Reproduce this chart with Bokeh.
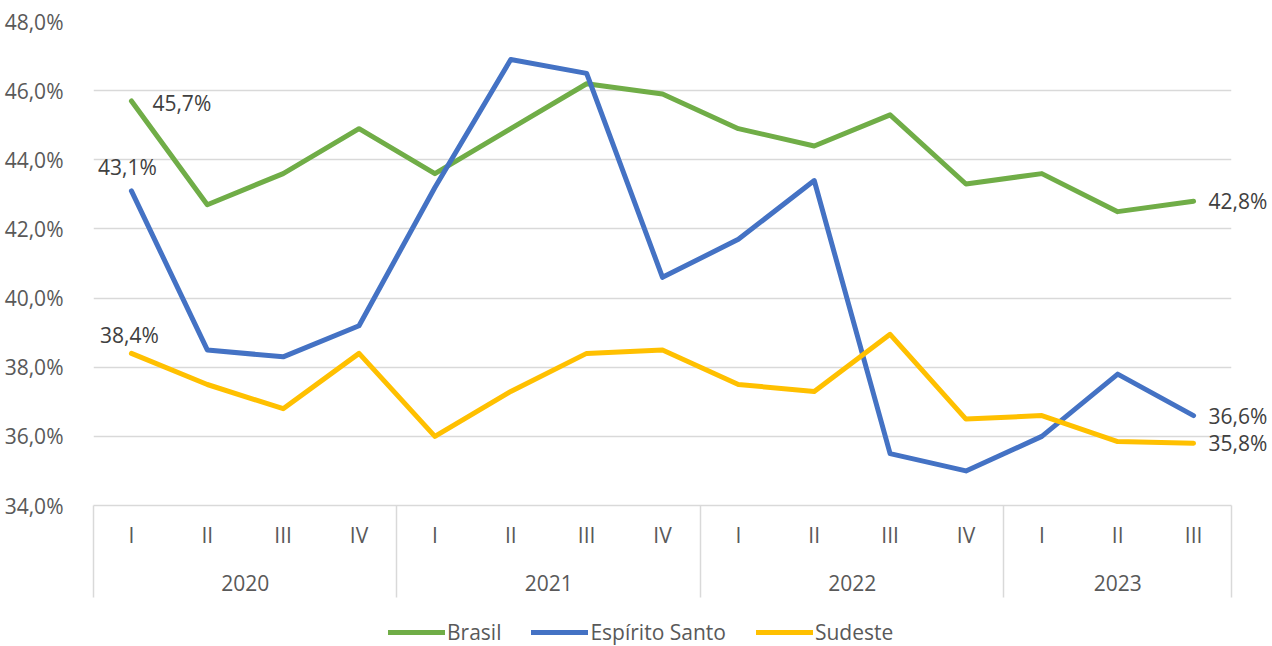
from bokeh.plotting import figure
from bokeh.layouts import column
from bokeh.models import (Range1d, FixedTicker, LinearAxis, CustomJSTickFormatter,
                          Legend, LegendItem, LabelSet, ColumnDataSource)
from bokeh.core.properties import value
from bokeh.embed import file_html
from bokeh.resources import INLINE

# ---------------- data ----------------
years = ["2020", "2021", "2022", "2023"]
quarters_per_year = [4, 4, 4, 3]
quarters = ["I", "II", "III", "IV",
            "I", "II", "III", "IV",
            "I", "II", "III", "IV",
            "I", "II", "III"]

brasil = [45.7, 42.7, 43.6, 44.9, 43.6, 44.9, 46.2, 45.9, 44.9, 44.4, 45.3, 43.3, 43.6, 42.5, 42.8]
espirito_santo = [43.1, 38.5, 38.3, 39.2, 43.2, 46.9, 46.5, 40.6, 41.7, 43.4, 35.5, 35.0, 36.0, 37.8, 36.6]
sudeste = [38.4, 37.5, 36.8, 38.4, 36.0, 37.3, 38.4, 38.5, 37.5, 37.3, 38.95, 36.5, 36.6, 35.85, 35.8]

y_ticks = [34, 36, 38, 40, 42, 44, 46, 48]

series_names = ["Brasil", "Espírito Santo", "Sudeste"]
series_colors = ["#70AD47", "#4472C4", "#FFC000"]

# ---------------- derived positions ----------------
n_q = len(quarters)
x_idx = list(range(n_q))
year_centers = []
separators = [-0.5]
start = 0
for n in quarters_per_year:
    year_centers.append(start + (n - 1) / 2)
    start += n
    separators.append(start - 0.5)
last = n_q - 1
end_values = [brasil[last], espirito_santo[last], sudeste[last]]

FONT = "Open Sans"
FS = "21px"
GREY = "#595959"
LABEL = "#404040"
GRID = "#d9d9d9"
PCT_JS = "return tick.toFixed(1).replace('.', ',') + '%';"
W = 1270


def fmt(v):
    return f"{v:.1f}".replace(".", ",") + "%"


p = figure(width=W, height=601, output_backend="svg", toolbar_location=None,
           x_range=Range1d(-0.5, n_q - 0.5), y_range=Range1d(34, 48),
           x_axis_location=None, y_axis_location="left",
           min_border_left=93, min_border_right=39, min_border_top=21, min_border_bottom=96)
p.outline_line_color = None
p.background_fill_color = "white"
p.border_fill_color = "white"

# y axis
p.yaxis.ticker = FixedTicker(ticks=y_ticks)
p.yaxis.formatter = CustomJSTickFormatter(code=PCT_JS)
p.yaxis.axis_line_color = None
p.yaxis.major_tick_line_color = None
p.yaxis.minor_tick_line_color = None
p.yaxis.major_label_standoff = 24
p.yaxis.major_label_text_font = FONT
p.yaxis.major_label_text_font_size = FS
p.yaxis.major_label_text_color = GREY

p.ygrid.ticker = FixedTicker(ticks=y_ticks)
p.ygrid.grid_line_color = GRID
p.ygrid.grid_line_width = 1.5
p.xgrid.visible = False

# right axis carrying the end-of-series value labels
raxis = LinearAxis(
    ticker=FixedTicker(ticks=end_values, minor_ticks=[]),
    formatter=CustomJSTickFormatter(code=PCT_JS),
    axis_line_color=None, major_tick_line_color=None, minor_tick_line_color=None,
    major_tick_out=0, major_tick_in=0, minor_tick_out=0, minor_tick_in=0,
    major_label_standoff=-23,
    major_label_text_font=FONT, major_label_text_font_size=FS,
    major_label_text_color=LABEL)
p.add_layout(raxis, "right")

# quarter axis
qaxis = LinearAxis(
    ticker=FixedTicker(ticks=x_idx, minor_ticks=[]),
    formatter=CustomJSTickFormatter(args=dict(labels=quarters),
                                    code="return labels[Math.round(tick)];"),
    axis_line_color=GRID, axis_line_width=1.5,
    major_tick_line_color=None, major_tick_out=0, major_tick_in=0,
    minor_tick_line_color=None, minor_tick_out=0, minor_tick_in=0,
    major_label_standoff=15,
    major_label_text_font=FONT, major_label_text_font_size=FS,
    major_label_text_color=GREY)
p.add_layout(qaxis, "below")

# year axis
yraxis = LinearAxis(
    ticker=FixedTicker(ticks=year_centers, minor_ticks=[]),
    formatter=CustomJSTickFormatter(args=dict(labels=years, pos=year_centers),
                                    code="const i = pos.findIndex(v => Math.abs(v - tick) < 1e-6); return i >= 0 ? labels[i] : '';"),
    axis_line_color=None, major_tick_line_color=None, minor_tick_line_color=None,
    major_tick_out=0, major_tick_in=0, minor_tick_out=0, minor_tick_in=0,
    major_label_standoff=23,
    major_label_text_font=FONT, major_label_text_font_size=FS,
    major_label_text_color=GREY)
p.add_layout(yraxis, "below")

# group separators: ticks reaching up to the plot area and a little below the year labels
sepaxis = LinearAxis(
    ticker=FixedTicker(ticks=separators, minor_ticks=[]),
    formatter=CustomJSTickFormatter(code="return ' ';"),
    axis_line_color=None,
    major_tick_line_color=GRID, major_tick_line_width=1.5, major_tick_in=88, major_tick_out=4,
    minor_tick_line_color=None, minor_tick_out=0, minor_tick_in=0,
    major_label_standoff=0, major_label_text_font_size="1px")
p.add_layout(sepaxis, "below")

# lines
src = ColumnDataSource(dict(x=x_idx, brasil=brasil, es=espirito_santo, sudeste=sudeste))
for col, color in zip(["brasil", "es", "sudeste"], series_colors):
    p.line("x", col, source=src, line_color=color, line_width=5,
           line_cap="round", line_join="round")

# data labels at the first quarter
label_specs = [
    # (value, align, x_offset, y_offset)
    (brasil[0], "left", 21, -2),
    (espirito_santo[0], "center", -4, 24),
    (sudeste[0], "center", -2, 18),
]
for v, align, xo, yo in label_specs:
    ls = LabelSet(x="x", y="y", text="t",
                  source=ColumnDataSource(dict(x=[x_idx[0]], y=[v], t=[fmt(v)])),
                  text_align=align, text_baseline="middle",
                  x_offset=xo, y_offset=yo,
                  text_font=value(FONT), text_font_size=value(FS), text_color=LABEL)
    p.add_layout(ls)

# legend strip below the chart (series drawn out of its view, legend only)
lg = figure(width=W, height=45, output_backend="svg", toolbar_location=None,
            x_range=Range1d(0, 1), y_range=Range1d(0, 1),
            x_axis_location=None, y_axis_location=None, min_border=0)
lg.outline_line_color = None
lg.grid.visible = False
lg_renderers = []
for col, color in zip(["brasil", "es", "sudeste"], series_colors):
    r = lg.line("x", col, source=src, line_color=color, line_width=5,
                line_cap="round", line_join="round")
    lg_renderers.append(r)

legend = Legend(
    items=[LegendItem(label=n, renderers=[r]) for n, r in zip(series_names, lg_renderers)],
    orientation="horizontal", location=(295, 0),
    spacing=30, label_standoff=2, glyph_width=57, glyph_height=20,
    padding=0, margin=0, border_line_color=None, background_fill_alpha=0,
    label_text_font=FONT, label_text_font_size=FS, label_text_color=GREY)
lg.add_layout(legend, "center")

layout = column(p, lg, spacing=0)
open("out.html", "w").write(file_html(layout, INLINE))
